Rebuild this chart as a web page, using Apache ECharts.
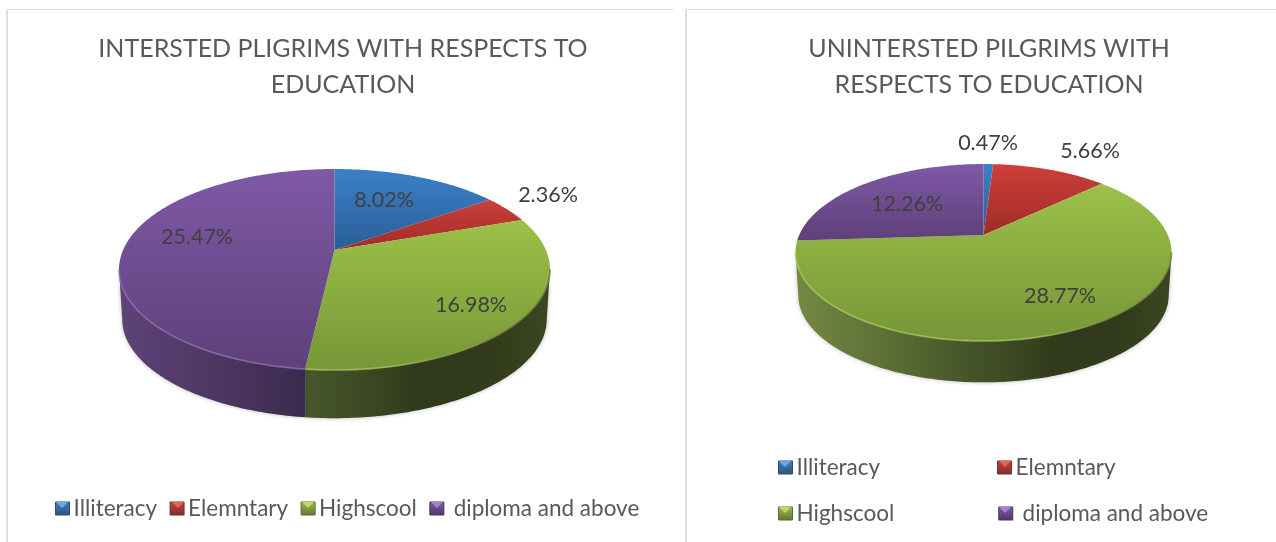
<!DOCTYPE html>
<html>
<head>
<meta charset="utf-8">
<style>html,body{margin:0;padding:0;background:#fff}#chart{width:1276px;height:542px}</style>
<script src="https://cdn.jsdelivr.net/npm/echarts@6/dist/echarts.min.js"></script>
</head>
<body>
<div id="chart"></div>
<script>
const categories = ['Illiteracy', 'Elemntary', 'Highscool', ' diploma and above'];
const interestedValues = [8.02, 2.36, 16.98, 25.47];
const uninterestedValues = [0.47, 5.66, 28.77, 12.26];
const interestedTitle = 'INTERSTED PLIGRIMS WITH RESPECTS TO\nEDUCATION';
const uninterestedTitle = 'UNINTERSTED PILGRIMS WITH\nRESPECTS TO EDUCATION';

// Slice palette: base colour, top-of-slice and bottom-of-slice shades.
const palette = [
  { base: [79, 129, 189], top: '#3b80c8', bottom: '#2a5f96', rim: '#5b93cf', glow: '#6fa8e4' },
  { base: [192, 80, 77], top: '#cc3f3a', bottom: '#a02c28', rim: '#d46460', glow: '#e4635e' },
  { base: [155, 187, 89], top: '#9bc147', bottom: '#779638', rim: '#a8c95c', glow: '#bcd868' },
  { base: [127, 90, 162], top: '#7e59a6', bottom: '#5e4079', rim: '#8d6cb4', glow: '#a482d0' }
];

// Perspective disc: cx/cy is the projected pie centre, a is the foreshortening strength.
const interestedDisc = {
  cx: 334.5, cy: 250, A: 211.4, B: 96.7, a: 0.194, depth: 50, wallScale: 0.985,
  labels: [[384, 200], [548, 195], [471, 305], [197, 237]]
};
const uninterestedDisc = {
  cx: 983.5, cy: 235, A: 184.3, B: 85, a: 0.1976, depth: 43, wallScale: 0.985,
  labels: [[988, 143], [1090, 151], [1060, 296], [907, 204]]
};

// Brightness of the outer wall across the disc width.
const wallShade = [[0, 0.74], [0.27, 0.58], [0.45, 0.46], [0.7, 0.31], [0.87, 0.32], [1, 0.38]];

function project(d, t, scale, drop) {
  const X = Math.sin(t), Y = Math.cos(t), w = 1 + d.a * Y, s = scale || 1;
  return [d.cx + d.A * X / w * s, d.cy - d.B * Y / w * s + (drop || 0)];
}

function arc(d, from, to, scale, drop) {
  const pts = [], n = Math.max(2, Math.ceil((to - from) / 0.015));
  for (let i = 0; i <= n; i++) pts.push(project(d, from + (to - from) * i / n, scale, drop));
  return pts;
}

function shade(rgb, k) {
  return 'rgb(' + rgb.map(c => Math.round(c * k)).join(',') + ')';
}

function sliceRenderer(d, index, values) {
  const total = values.reduce((s, v) => s + v, 0);
  const before = values.slice(0, index).reduce((s, v) => s + v, 0);
  return function (params, api) {
    const value = api.value(0);
    const t0 = before / total * Math.PI * 2;
    const t1 = (before + value) / total * Math.PI * 2;
    const p = palette[index];
    const children = [];

    // Visible part of the outer wall lies between the two horizontal tangents.
    const tR = Math.acos(-d.a), tL = Math.PI * 2 - tR;
    const w0 = Math.max(t0, tR), w1 = Math.min(t1, tL);
    const spanX = d.A / Math.sqrt(1 - d.a * d.a);
    if (w1 > w0) {
      const upper = arc(d, w0, w1);
      const lower = arc(d, w0, w1, d.wallScale, d.depth).reverse();
      children.push({
        type: 'polygon',
        shape: { points: upper.concat(lower) },
        style: {
          fill: new echarts.graphic.LinearGradient(d.cx - spanX, 0, d.cx + spanX, 0,
            wallShade.map(s => ({ offset: s[0], color: shade(p.base, s[1]) })), true),
          shadowBlur: 4, shadowColor: 'rgba(0,0,0,0.28)'
        }
      });
    }

    // Top surface of the slice.
    children.push({
      type: 'polygon',
      shape: { points: [[d.cx, d.cy]].concat(arc(d, t0, t1)) },
      style: {
        fill: new echarts.graphic.LinearGradient(0, 0, 0, 1, [
          { offset: 0, color: p.top }, { offset: 1, color: p.bottom }
        ])
      }
    });

    // Bevel along the front edge: light on the left, sinking into shadow on the right.
    if (w1 > w0) {
      children.push({
        type: 'polyline',
        shape: { points: arc(d, w0, w1) },
        style: {
          stroke: new echarts.graphic.LinearGradient(d.cx - spanX, 0, d.cx + spanX, 0, [
            { offset: 0, color: p.rim }, { offset: 0.62, color: p.rim },
            { offset: 0.85, color: shade(p.base, 0.72) }, { offset: 1, color: shade(p.base, 0.62) }
          ], true),
          lineWidth: 1.8, fill: null, opacity: 0.7
        }
      });
    }

    const pos = d.labels[index];
    children.push({
      type: 'text',
      z2: 10,
      style: {
        text: value.toFixed(2) + '%', x: pos[0], y: pos[1],
        align: 'center', verticalAlign: 'middle',
        font: '21.5px Lato', fill: '#404040'
      }
    });
    return { type: 'group', children: children };
  };
}

function sliceSeries(disc, values) {
  return categories.map((name, i) => ({
    type: 'custom',
    name: name,
    coordinateSystem: 'none',
    silent: true,
    itemStyle: { color: shade(palette[i].base, 1) },
    renderItem: sliceRenderer(disc, i, values),
    data: [[values[i]]]
  }));
}

function legendEntry(name) {
  const p = palette[categories.indexOf(name)];
  return {
    name: name,
    icon: 'rect',
    itemStyle: {
      color: new echarts.graphic.LinearGradient(0, 0, 0, 1, [
        { offset: 0, color: p.top }, { offset: 1, color: shade(p.base, 0.62) }
      ]),
      borderColor: shade(p.base, 0.58), borderWidth: 1
    }
  };
}

function legend(names, left, top, gap) {
  return {
    data: names.map(legendEntry), left: left, top: top, itemGap: gap,
    itemWidth: 14, itemHeight: 13, selectedMode: false, padding: 0,
    textStyle: { fontFamily: 'Lato', fontSize: 22.5, color: '#595959', padding: [0, 0, 0, -1] }
  };
}

function title(text, center) {
  return {
    text: text, left: center, top: 26, textAlign: 'center',
    textStyle: { fontFamily: 'Lato', fontSize: 25, fontWeight: 'normal', color: '#595959', lineHeight: 36 }
  };
}

// Thin frames of the two chart panels.
function frame(x, y, w, h) {
  return { type: 'rect', shape: { x, y, width: w, height: h }, style: { fill: '#dfdfdf' }, silent: true };
}

// Lit facet on the top half of a legend key.
function keyFacet(x, y, index) {
  return {
    type: 'polygon', z: 10, silent: true,
    shape: { points: [[x + 1, y + 1], [x + 13, y + 1], [x + 7, y + 7]] },
    style: { fill: palette[index].glow }
  };
}

const chart = echarts.init(document.getElementById('chart'));
chart.setOption({
  animation: false,
  backgroundColor: '#fff',
  title: [title(interestedTitle, 338), title(uninterestedTitle, 984)],
  legend: [
    legend(categories, 55, 497, 12.5),
    legend(categories.slice(0, 2), 778, 456, 117),
    legend(categories.slice(2), 778, 502, 104)
  ],
  graphic: [
    frame(6, 9, 2, 533), frame(8, 9, 665, 1),
    frame(685, 9, 2, 533), frame(687, 9, 589, 1),
    keyFacet(55, 501, 0), keyFacet(171, 501, 1), keyFacet(301, 501, 2), keyFacet(430, 501, 3),
    keyFacet(778, 460, 0), keyFacet(998, 460, 1), keyFacet(778, 506, 2), keyFacet(998, 506, 3)
  ],
  series: sliceSeries(interestedDisc, interestedValues).concat(sliceSeries(uninterestedDisc, uninterestedValues))
});
</script>
</body>
</html>
